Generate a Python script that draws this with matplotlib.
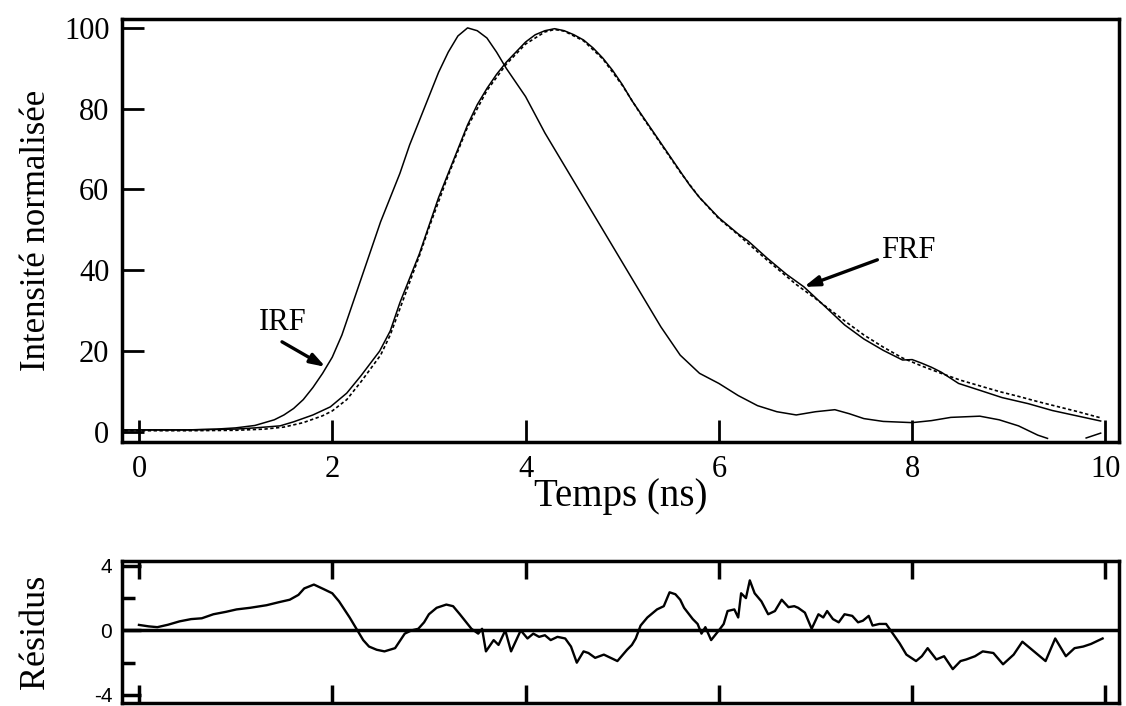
import matplotlib
matplotlib.use("Agg")
import matplotlib.pyplot as plt

plt.rcParams["axes.unicode_minus"] = False

# top panel: IRF, FRF and fitted FRF (dashed)
irf_t = [-0.15, 0.0, 0.5, 0.8, 1.0, 1.2, 1.4, 1.5, 1.6, 1.7, 1.8, 1.9, 2.0, 2.1, 2.2, 2.3, 2.4,
         2.5, 2.6, 2.7, 2.8, 2.9, 3.0, 3.1, 3.2, 3.3, 3.4, 3.5, 3.6, 3.7, 3.8, 3.9, 4.0, 4.2,
         4.4, 4.6, 4.8, 5.0, 5.2, 5.4, 5.6, 5.8, 6.0, 6.2, 6.4, 6.6, 6.8, 7.0, 7.2, 7.35, 7.5,
         7.7, 8.0, 8.2, 8.4, 8.7, 8.9, 9.1, 9.3, 9.4]
irf_y = [0.5, 0.5, 0.5, 0.7, 1.0, 1.6, 3.0, 4.2, 5.8, 8.0, 11, 14.5, 18.5, 24, 31, 38, 45,
         52, 58, 64, 71, 77, 83, 89, 94, 98, 100, 99.3, 97.5, 94, 90, 86.5, 83, 74,
         66, 58, 50, 42, 34, 26, 19, 14.5, 12, 9, 6.5, 5, 4.2, 5, 5.5, 4.5, 3.3,
         2.6, 2.3, 2.8, 3.6, 3.9, 3.0, 1.5, -0.8, -1.6]
irf_tail_t = [9.8, 9.95]
irf_tail_y = [-1.5, -0.3]

frf_t = [-0.15, 0.5, 1.0, 1.2, 1.46, 1.6, 1.8, 1.98, 2.15, 2.3, 2.49, 2.6, 2.7, 2.8, 2.9, 3.0,
         3.1, 3.2, 3.3, 3.4, 3.5, 3.6, 3.7, 3.8, 3.9, 4.0, 4.1, 4.2, 4.3, 4.4, 4.5, 4.6, 4.7,
         4.8, 4.9, 5.0, 5.1, 5.2, 5.3, 5.4, 5.5, 5.6, 5.7, 5.8, 5.9, 6.0, 6.1, 6.2, 6.3, 6.5,
         6.7, 6.88, 7.1, 7.3, 7.5, 7.7, 7.9, 8.0, 8.1, 8.2, 8.3, 8.48, 8.7, 8.93, 9.2, 9.45,
         9.7, 9.95]
frf_y = [0.5, 0.5, 0.7, 1.0, 1.5, 2.5, 4.2, 6.2, 9.6, 14, 20, 25, 32, 38, 44, 51,
         58, 64, 70, 76, 81, 85, 88.5, 91.5, 94, 96.5, 98.3, 99.3, 99.8, 99.3, 98.3, 97, 95,
         92.5, 89.5, 86, 82, 78.5, 75, 71.5, 68, 64.5, 61, 58, 55.5, 53, 51, 49, 47.3, 43,
         39, 35.9, 31, 26.5, 23, 20.2, 17.8, 17.9, 17.0, 16, 14.8, 12, 10.3, 8.5, 7, 5.3,
         4.0, 2.7]

fit_t = [-0.15, 0.5, 1.0, 1.3, 1.5, 1.7, 1.9, 2.0, 2.15, 2.3, 2.5, 2.6, 2.7, 2.8, 2.9, 3.0,
         3.2, 3.4, 3.6, 3.8, 4.0, 4.2, 4.3, 4.4, 4.6, 4.8, 5.0, 5.2, 5.4, 5.6, 5.8, 6.0, 6.2,
         6.5, 6.8, 7.0, 7.3, 7.5, 7.7, 7.9, 8.1, 8.3, 8.5, 8.7, 8.9, 9.1, 9.3, 9.5, 9.7, 9.9,
         9.95]
fit_y = [0.3, 0.3, 0.4, 0.7, 1.2, 2.3, 4.0, 5.2, 8, 12.5, 19, 24, 30.5, 37, 43.5, 50.5,
         63.5, 75.5, 84.5, 91, 96, 99, 99.6, 99.2, 96.8, 92.3, 85.8, 78.3, 71.3, 64.3, 58, 52.8, 48.8,
         42.5, 36.5, 33, 27.5, 24, 21, 18.3, 16.3, 14.5, 12.8, 11.4, 10.0, 8.8, 7.5, 6.3, 5.1, 3.8,
         3.5]

# bottom panel: residuals
res_t = [0.0, 0.1, 0.19, 0.3, 0.42, 0.54, 0.65, 0.77, 0.9, 1.01, 1.15, 1.32, 1.45, 1.56, 1.65,
         1.71, 1.81, 1.86, 1.91, 2.0, 2.07, 2.18, 2.26, 2.32, 2.38, 2.46, 2.54, 2.65, 2.75, 2.82,
         2.89, 2.95, 3.0, 3.08, 3.18, 3.25, 3.32, 3.44, 3.51, 3.55, 3.59, 3.67, 3.72, 3.79, 3.85,
         3.95, 4.02, 4.08, 4.14, 4.2, 4.26, 4.33, 4.41, 4.47, 4.53, 4.6, 4.65, 4.72, 4.81, 4.88,
         4.95, 5.05, 5.1, 5.14, 5.19, 5.26, 5.3, 5.36, 5.43, 5.49, 5.55, 5.6, 5.64, 5.73, 5.78,
         5.82, 5.86, 5.92, 6.0, 6.05, 6.09, 6.16, 6.2, 6.23, 6.28, 6.32, 6.37, 6.44, 6.51, 6.58,
         6.65, 6.72, 6.78, 6.82, 6.89, 6.96, 7.03, 7.08, 7.12, 7.18, 7.24, 7.3, 7.38, 7.44, 7.49,
         7.55, 7.59, 7.66, 7.73, 7.8, 7.87, 7.94, 8.04, 8.1, 8.16, 8.25, 8.33, 8.42, 8.5, 8.56,
         8.65, 8.73, 8.84, 8.94, 9.05, 9.14, 9.2, 9.26, 9.38, 9.48, 9.59, 9.68, 9.77, 9.85, 9.97]
res_y = [0.34, 0.25, 0.2, 0.35, 0.56, 0.7, 0.75, 1.0, 1.15, 1.3, 1.4, 1.56, 1.75, 1.9, 2.2,
         2.6, 2.84, 2.7, 2.56, 2.3, 1.8, 0.8, 0.0, -0.6, -1.0, -1.2, -1.3, -1.1, -0.2, 0.0,
         0.1, 0.5, 1.0, 1.4, 1.6, 1.5, 1.0, 0.1, -0.2, 0.1, -1.3, -0.6, -0.9, 0.0, -1.3,
         0.0, -0.5, -0.2, -0.4, -0.3, -0.6, -0.4, -0.5, -1.0, -2.0, -1.3, -1.4, -1.7, -1.5, -1.7,
         -1.9, -1.2, -0.9, -0.5, 0.3, 0.8, 1.0, 1.3, 1.5, 2.36, 2.24, 1.9, 1.4, 0.7, 0.4,
         -0.2, 0.2, -0.6, 0.0, 0.4, 1.2, 1.3, 0.8, 2.3, 2.0, 3.1, 2.3, 1.8, 1.0, 1.2,
         1.9, 1.44, 1.5, 1.4, 1.1, 0.1, 1.0, 0.8, 1.2, 0.7, 0.5, 1.0, 0.9, 0.5, 0.6,
         0.9, 0.3, 0.4, 0.4, -0.2, -0.8, -1.5, -1.9, -1.6, -1.1, -1.8, -1.6, -2.4, -1.9, -1.8,
         -1.6, -1.3, -1.4, -2.1, -1.5, -0.7, -1.0, -1.3, -1.9, -0.5, -1.6, -1.1, -1.0, -0.84, -0.5]

xticks = [0, 2, 4, 6, 8, 10]
yticks_top = [0, 20, 40, 60, 80, 100]

serif = "Liberation Serif"
sans = "Liberation Sans"

fig = plt.figure(figsize=(11.26, 7.06), dpi=100)
ax = fig.add_axes([0.1083, 0.3739, 0.8855, 0.5992])
ax2 = fig.add_axes([0.1083, 0.0042, 0.8855, 0.2012])

ax.plot(irf_t, irf_y, color="black", lw=1.1)
ax.plot(irf_tail_t, irf_tail_y, color="black", lw=1.1)
ax.plot(frf_t, frf_y, color="black", lw=1.1)
ax.plot(fit_t, fit_y, color="black", lw=1.2, dashes=(2, 1.5))

ax.set_xlim(-0.176, 10.14)
ax.set_ylim(-2.5, 102.2)
ax.set_xticks(xticks)
ax.set_yticks(yticks_top)
ax.tick_params(direction="in", length=16, width=2, top=False, right=False,
               labelsize=22, pad=9)
for lab in ax.get_xticklabels() + ax.get_yticklabels():
    lab.set_family(serif)
for s in ax.spines.values():
    s.set_linewidth(2.5)

ax.set_xlabel("Temps (ns)", fontsize=28, family=serif, labelpad=-4)
ax.set_ylabel("Intensité normalisée", fontsize=25, family=serif, labelpad=8)

arrow = dict(arrowstyle="-|>,head_length=0.9,head_width=0.3", lw=2.4,
             color="black", shrinkA=0, shrinkB=0)
ax.text(1.49, 27.2, "IRF", fontsize=22, family=serif, ha="center", va="center")
ax.annotate("", xy=(1.93, 16.1), xytext=(1.48, 22.3), arrowprops=arrow)
ax.text(7.96, 45, "FRF", fontsize=22, family=serif, ha="center", va="center")
ax.annotate("", xy=(6.88, 35.9), xytext=(7.64, 42.6), arrowprops=arrow)

ax2.plot(res_t, res_y, color="black", lw=1.7)
ax2.axhline(0, color="black", lw=2.5)
ax2.set_xlim(-0.176, 10.14)
ax2.set_ylim(-4.5, 4.3)
ax2.set_xticks(xticks)
ax2.set_xticklabels([])
ax2.set_yticks([-4, 0, 4])
ax2.set_yticks([-2, 2], minor=True)
ax2.tick_params(axis="x", direction="in", length=13, width=2.5, top=True, bottom=True)
ax2.tick_params(axis="y", which="major", direction="in", length=14, width=2.5,
                labelsize=15, pad=7)
ax2.tick_params(axis="y", which="minor", direction="in", length=9, width=2.5)
for lab in ax2.get_yticklabels():
    lab.set_family(sans)
for s in ax2.spines.values():
    s.set_linewidth(2.5)
ax2.set_ylabel("Résidus", fontsize=26, family=serif, labelpad=30)

fig.savefig("out.png", dpi=100)
